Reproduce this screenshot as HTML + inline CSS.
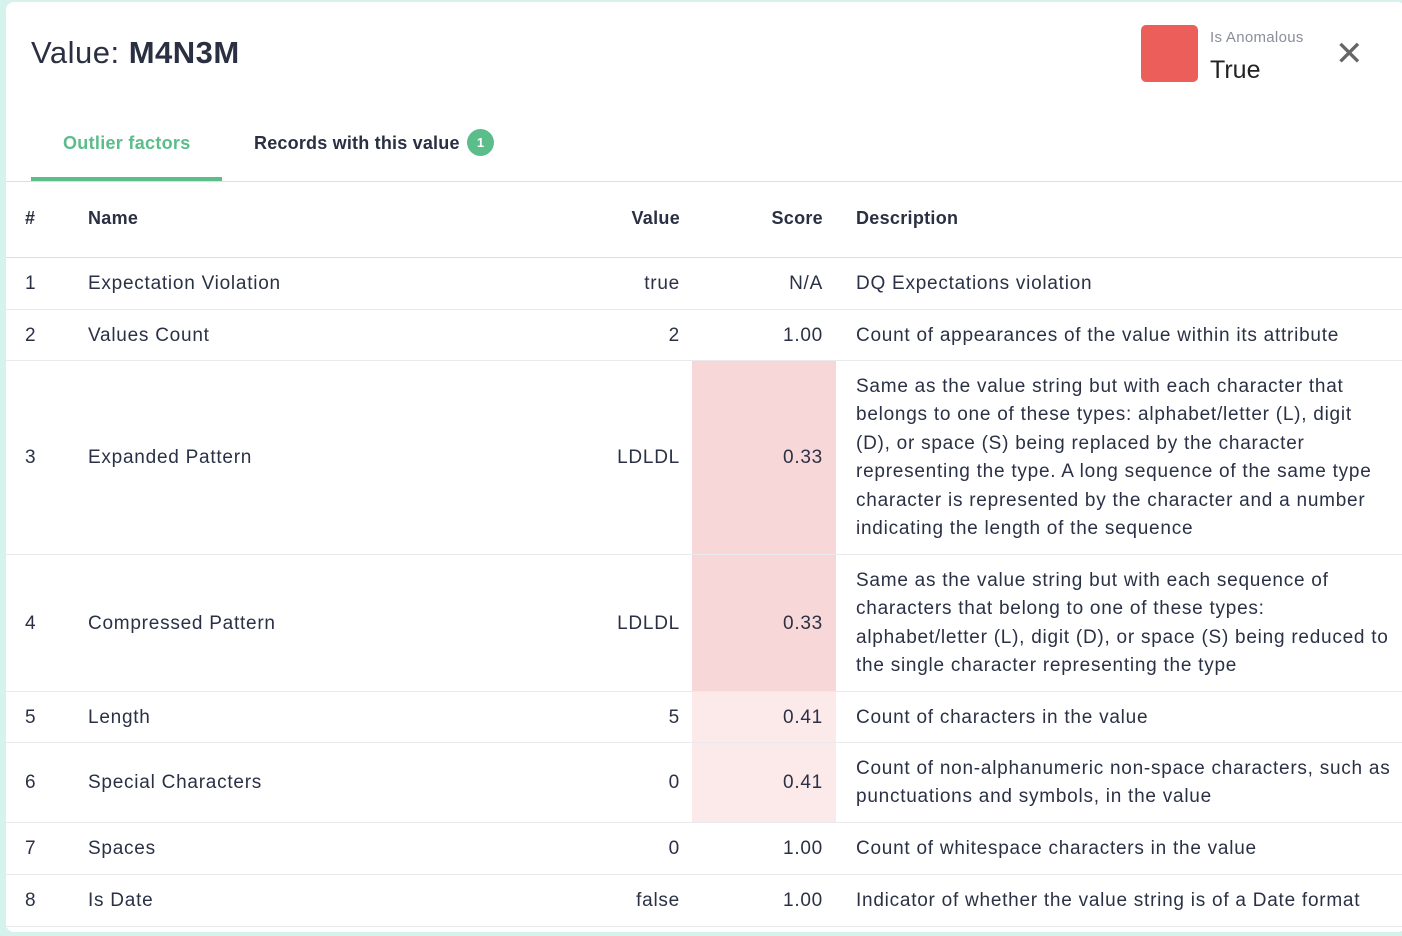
<!DOCTYPE html>
<html><head><style>
body{margin:0;width:1402px;height:936px;background:#d6f2ec;font-family:"Liberation Sans",sans-serif;color:#2a3042;overflow:hidden;position:relative}
.card{position:absolute;left:6px;top:2px;width:1400px;height:930px;background:#fff;border-radius:8px}
.a{position:absolute;white-space:nowrap}
.t{font-size:19px;color:#2b3145;letter-spacing:0.75px}
.r{text-align:right}
.line{position:absolute;left:6px;width:1396px;height:1px;background:#e8eaee}
.pink{position:absolute;left:692px;width:144px}
.desc{position:absolute;left:856px;width:545px;font-size:19px;line-height:28.4px;color:#2b3145;white-space:nowrap;letter-spacing:0.75px}
</style></head><body>
<div class="card"></div>
<div class="a" style="left:31px;top:35px;font-size:31px;color:#2a3042;letter-spacing:0.5px">Value: <b>M4N3M</b></div>
<div class="a" style="left:1141px;top:25px;width:57px;height:57px;background:#eb5e5a;border-radius:5px"></div>
<div class="a" style="left:1210px;top:29px;font-size:15px;color:#8a8e98;letter-spacing:0.3px">Is Anomalous</div>
<div class="a" style="left:1210px;top:56px;font-size:25px;color:#222">True</div>
<div class="a" style="left:1335px;top:34px;font-size:34px;color:#666;font-weight:300">✕</div>
<div class="a" style="left:63px;top:133px;font-size:18px;font-weight:bold;color:#5bbd8a;letter-spacing:0.3px">Outlier factors</div>
<div class="a" style="left:254px;top:133px;font-size:18px;font-weight:bold;color:#2a3042;letter-spacing:0.2px">Records with this value</div>
<div class="a" style="left:467px;top:129px;width:27px;height:27px;border-radius:50%;background:#5bbd8a;color:#fff;font-size:13px;text-align:center;line-height:27px;font-weight:bold">1</div>
<div class="line" style="top:181px;background:#dcdee3"></div>
<div class="a" style="left:31px;top:177px;width:191px;height:4px;background:#5bbd8a"></div>
<div class="a" style="left:25px;top:208px;font-size:18px;font-weight:bold">#</div>
<div class="a" style="left:88px;top:208px;font-size:18px;font-weight:bold;letter-spacing:0.3px">Name</div>
<div class="a r" style="left:560px;width:120px;top:208px;font-size:18px;font-weight:bold;letter-spacing:0.3px">Value</div>
<div class="a r" style="left:700px;width:123px;top:208px;font-size:18px;font-weight:bold;letter-spacing:0.3px">Score</div>
<div class="a" style="left:856px;top:208px;font-size:18px;font-weight:bold;letter-spacing:0.3px">Description</div>
<div class="line" style="top:257px;background:#dcdee3"></div>

<div class="pink" style="top:361px;height:193px;background:#f7d7d8"></div>
<div class="pink" style="top:555px;height:136px;background:#f7d7d8"></div>
<div class="pink" style="top:692px;height:130px;background:#fce9ea"></div>

<div class="a t" style="left:25px;top:273px">1</div><div class="a t" style="left:88px;top:273px">Expectation Violation</div>
<div class="a t r" style="left:560px;width:120px;top:273px">true</div><div class="a t r" style="left:700px;width:123px;top:273px">N/A</div>
<div class="a t" style="left:856px;top:273px">DQ Expectations violation</div>
<div class="line" style="top:309px"></div>

<div class="a t" style="left:25px;top:325px">2</div><div class="a t" style="left:88px;top:325px">Values Count</div>
<div class="a t r" style="left:560px;width:120px;top:325px">2</div><div class="a t r" style="left:700px;width:123px;top:325px">1.00</div>
<div class="a t" style="left:856px;top:325px">Count of appearances of the value within its attribute</div>
<div class="line" style="top:360px"></div>

<div class="a t" style="left:25px;top:447px">3</div><div class="a t" style="left:88px;top:447px">Expanded Pattern</div>
<div class="a t r" style="left:560px;width:120px;top:447px">LDLDL</div><div class="a t r" style="left:700px;width:123px;top:447px">0.33</div>
<div class="desc" style="top:373px">Same as the value string but with each character that<br>belongs to one of these types: alphabet/letter (L), digit<br>(D), or space (S) being replaced by the character<br>representing the type. A long sequence of the same type<br>character is represented by the character and a number<br>indicating the length of the sequence</div>
<div class="line" style="top:554px"></div>

<div class="a t" style="left:25px;top:613px">4</div><div class="a t" style="left:88px;top:613px">Compressed Pattern</div>
<div class="a t r" style="left:560px;width:120px;top:613px">LDLDL</div><div class="a t r" style="left:700px;width:123px;top:613px">0.33</div>
<div class="desc" style="top:567px">Same as the value string but with each sequence of<br>characters that belong to one of these types:<br>alphabet/letter (L), digit (D), or space (S) being reduced to<br>the single character representing the type</div>
<div class="line" style="top:691px"></div>

<div class="a t" style="left:25px;top:707px">5</div><div class="a t" style="left:88px;top:707px">Length</div>
<div class="a t r" style="left:560px;width:120px;top:707px">5</div><div class="a t r" style="left:700px;width:123px;top:707px">0.41</div>
<div class="a t" style="left:856px;top:707px">Count of characters in the value</div>
<div class="line" style="top:742px"></div>

<div class="a t" style="left:25px;top:772px">6</div><div class="a t" style="left:88px;top:772px">Special Characters</div>
<div class="a t r" style="left:560px;width:120px;top:772px">0</div><div class="a t r" style="left:700px;width:123px;top:772px">0.41</div>
<div class="desc" style="top:755px">Count of non-alphanumeric non-space characters, such as<br>punctuations and symbols, in the value</div>
<div class="line" style="top:822px"></div>

<div class="a t" style="left:25px;top:838px">7</div><div class="a t" style="left:88px;top:838px">Spaces</div>
<div class="a t r" style="left:560px;width:120px;top:838px">0</div><div class="a t r" style="left:700px;width:123px;top:838px">1.00</div>
<div class="a t" style="left:856px;top:838px">Count of whitespace characters in the value</div>
<div class="line" style="top:874px"></div>

<div class="a t" style="left:25px;top:890px">8</div><div class="a t" style="left:88px;top:890px">Is Date</div>
<div class="a t r" style="left:560px;width:120px;top:890px">false</div><div class="a t r" style="left:700px;width:123px;top:890px">1.00</div>
<div class="a t" style="left:856px;top:890px">Indicator of whether the value string is of a Date format</div>
<div class="line" style="top:926px"></div>
</body></html>
